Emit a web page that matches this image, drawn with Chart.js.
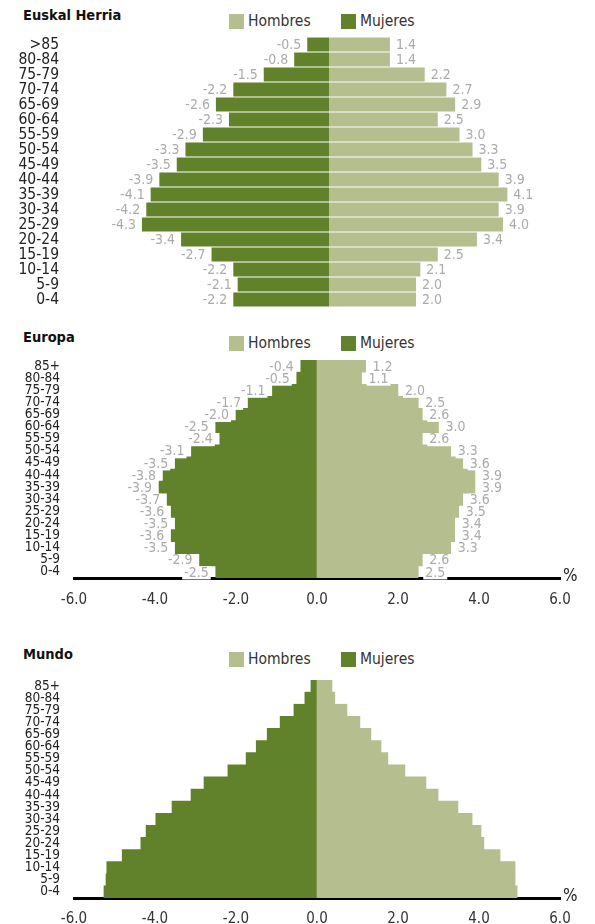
<!DOCTYPE html>
<html>
<head>
<meta charset="utf-8">
<script src="https://cdn.jsdelivr.net/npm/chart.js@4.4.1/dist/chart.umd.min.js"></script>
<style>
  body { margin: 0; background: #fff; width: 595px; height: 924px; position: relative; overflow: hidden;
         font-family: 'DejaVu Sans Condensed', sans-serif; color: #333; }
  .wrap { position: absolute; left: 0; width: 595px; }
  .title { position: absolute; left: 23px; font-weight: bold; font-size: 14.5px; color: #111; }
  .item { position: absolute; font-size: 15.5px; color: #333; line-height: 16px; }
  .sw { position: absolute; left: 0; top: 1px; width: 15px; height: 15px; }
  .item span.t { position: absolute; left: 19px; top: 0; white-space: nowrap; }
</style>
</head>
<body>

<div class="title" style="top:7px">Euskal Herria</div>
<div class="title" style="top:329px">Europa</div>
<div class="title" style="top:646px">Mundo</div>

<div class="item" style="left:229px;top:13px"><i class="sw" style="background:#b4be8e"></i><span class="t">Hombres</span></div>
<div class="item" style="left:341px;top:13px"><i class="sw" style="background:#61822a"></i><span class="t">Mujeres</span></div>
<div class="item" style="left:229px;top:335px"><i class="sw" style="background:#b4be8e"></i><span class="t">Hombres</span></div>
<div class="item" style="left:341px;top:335px"><i class="sw" style="background:#61822a"></i><span class="t">Mujeres</span></div>
<div class="item" style="left:229px;top:651px"><i class="sw" style="background:#b4be8e"></i><span class="t">Hombres</span></div>
<div class="item" style="left:341px;top:651px"><i class="sw" style="background:#61822a"></i><span class="t">Mujeres</span></div>

<div class="wrap" style="top:0;height:320px"><canvas id="eh"></canvas></div>
<div class="wrap" style="top:320px;height:300px"><canvas id="eu"></canvas></div>
<div class="wrap" style="top:640px;height:284px"><canvas id="mu"></canvas></div>

<script>
// age groups, oldest first
const ageEH = [">85", "80-84", "75-79", "70-74", "65-69", "60-64", "55-59", "50-54", "45-49",
  "40-44", "35-39", "30-34", "25-29", "20-24", "15-19", "10-14", "5-9", "0-4"];
const ageOther = ["85+", "80-84", "75-79", "70-74", "65-69", "60-64", "55-59", "50-54", "45-49",
  "40-44", "35-39", "30-34", "25-29", "20-24", "15-19", "10-14", "5-9", "0-4"];

// Euskal Herria
const ehHombres = [1.4, 1.4, 2.2, 2.7, 2.9, 2.5, 3.0, 3.3, 3.5, 3.9, 4.1, 3.9, 4.0, 3.4, 2.5, 2.1, 2.0, 2.0];
const ehMujeres = [-0.5, -0.8, -1.5, -2.2, -2.6, -2.3, -2.9, -3.3, -3.5, -3.9, -4.1, -4.2, -4.3, -3.4, -2.7, -2.2, -2.1, -2.2];

// Europa
const euHombres = [1.2, 1.1, 2.0, 2.5, 2.6, 3.0, 2.6, 3.3, 3.6, 3.9, 3.9, 3.6, 3.5, 3.4, 3.4, 3.3, 2.6, 2.5];
const euMujeres = [-0.4, -0.5, -1.1, -1.7, -2.0, -2.5, -2.4, -3.1, -3.5, -3.8, -3.9, -3.7, -3.6, -3.5, -3.6, -3.5, -2.9, -2.5];

// Mundo (no labels in the original)
const muHombres = [0.37, 0.44, 0.74, 1.06, 1.33, 1.58, 1.75, 2.17, 2.69, 2.99, 3.48, 3.83, 4.05, 4.12, 4.52, 4.89, 4.89, 4.94];
const muMujeres = [-0.15, -0.3, -0.57, -0.91, -1.23, -1.5, -1.75, -2.2, -2.79, -3.11, -3.58, -3.98, -4.22, -4.35, -4.81, -5.19, -5.21, -5.26];

const xTickValues = [-6, -4, -2, 0, 2, 4, 6];

const LIGHT = "#b4be8e";
const DARK = "#61822a";
const FONT = "'DejaVu Sans Condensed', sans-serif";

// value labels next to the bar ends, with a white patch behind them
const barLabels = {
  id: "barLabels",
  afterDatasetsDraw(chart, args, opts) {
    const ctx = chart.ctx;
    ctx.save();
    if (opts.show) {
      ctx.font = opts.size + "px " + FONT;
      ctx.textBaseline = "middle";
      ctx.textAlign = "left";
      chart.data.datasets.forEach((ds, i) => {
        chart.getDatasetMeta(i).data.forEach((bar, j) => {
          const v = ds.data[j];
          const txt = v.toFixed(1);
          const w = ctx.measureText(txt).width;
          const x = v < 0 ? bar.x - opts.gap - w : bar.x + opts.gap;
          const y = bar.y + opts.dy;
          if (opts.box) {
            ctx.fillStyle = "#fff";
            ctx.fillRect(x - 2, y - opts.boxH / 2, w + 4, opts.boxH);
          }
          ctx.fillStyle = "#ababab";
          ctx.fillText(txt, x, y);
        });
      });
    }
    if (opts.unit) {
      const a = chart.chartArea;
      ctx.font = "17px " + FONT;
      ctx.fillStyle = "#222";
      ctx.textAlign = "left";
      ctx.textBaseline = "alphabetic";
      ctx.fillText("%", a.right + 3, a.bottom + 3);
    }
    ctx.restore();
  }
};

function pyramid(id, labels, hombres, mujeres, cfg) {
  return new Chart(document.getElementById(id), {
    type: "bar",
    data: {
      labels: labels,
      datasets: [
        { label: "Hombres", data: hombres, backgroundColor: LIGHT, borderWidth: 0,
          barPercentage: 1, categoryPercentage: cfg.cat },
        { label: "Mujeres", data: mujeres, backgroundColor: DARK, borderWidth: 0,
          barPercentage: 1, categoryPercentage: cfg.cat }
      ]
    },
    options: {
      indexAxis: "y",
      responsive: true,
      maintainAspectRatio: false,
      animation: false,
      layout: { padding: cfg.padding },
      plugins: {
        legend: { display: false },
        tooltip: { enabled: false },
        barLabels: cfg.labels
      },
      scales: {
        x: {
          display: cfg.showX,
          stacked: true,
          min: -6, max: 6,
          afterBuildTicks: s => { s.ticks = xTickValues.map(v => ({ value: v })); },
          afterFit: s => { s.height = cfg.xHeight; },
          grid: { display: false, drawTicks: false },
          border: { display: true, color: "#000", width: 3 },
          ticks: {
            padding: cfg.xPad,
            color: "#333",
            font: { size: 15, family: FONT },
            callback: v => v.toFixed(1)
          }
        },
        y: {
          stacked: true,
          // fixed label column, and no extra room reserved for the end labels
          afterFit: s => { s.width = cfg.yWidth; s.paddingTop = 0; s.paddingBottom = 0; },
          grid: { display: false, drawTicks: false },
          border: { display: false },
          ticks: {
            autoSkip: false,
            padding: cfg.yPad,
            color: "#222",
            font: { size: cfg.ySize, family: FONT, lineHeight: 1 }
          }
        }
      }
    },
    plugins: [barLabels]
  });
}

pyramid("eh", ageEH, ehHombres, ehMujeres, {
  cat: 0.93, showX: false, xHeight: 0, xPad: 0, yWidth: 68, yPad: 9, ySize: 15.5,
  padding: { top: 37, bottom: 13, right: 5, left: 0 },
  labels: { show: true, size: 14, gap: 6, dy: 1, box: true, boxH: 13 }
});

pyramid("eu", ageOther, euHombres, euMujeres, {
  cat: 1, showX: true, xHeight: 30, xPad: 13, yWidth: 74, yPad: 14, ySize: 13.5,
  padding: { top: 40, bottom: 12, right: 35, left: 0 },
  labels: { show: true, size: 14, gap: 7, dy: 1, box: true, boxH: 13, unit: true }
});

pyramid("mu", ageOther, muHombres, muMujeres, {
  cat: 1, showX: true, xHeight: 26, xPad: 12, yWidth: 74, yPad: 14, ySize: 13.5,
  padding: { top: 40, bottom: 0, right: 35, left: 0 },
  labels: { show: false, unit: true }
});
</script>
</body>
</html>
